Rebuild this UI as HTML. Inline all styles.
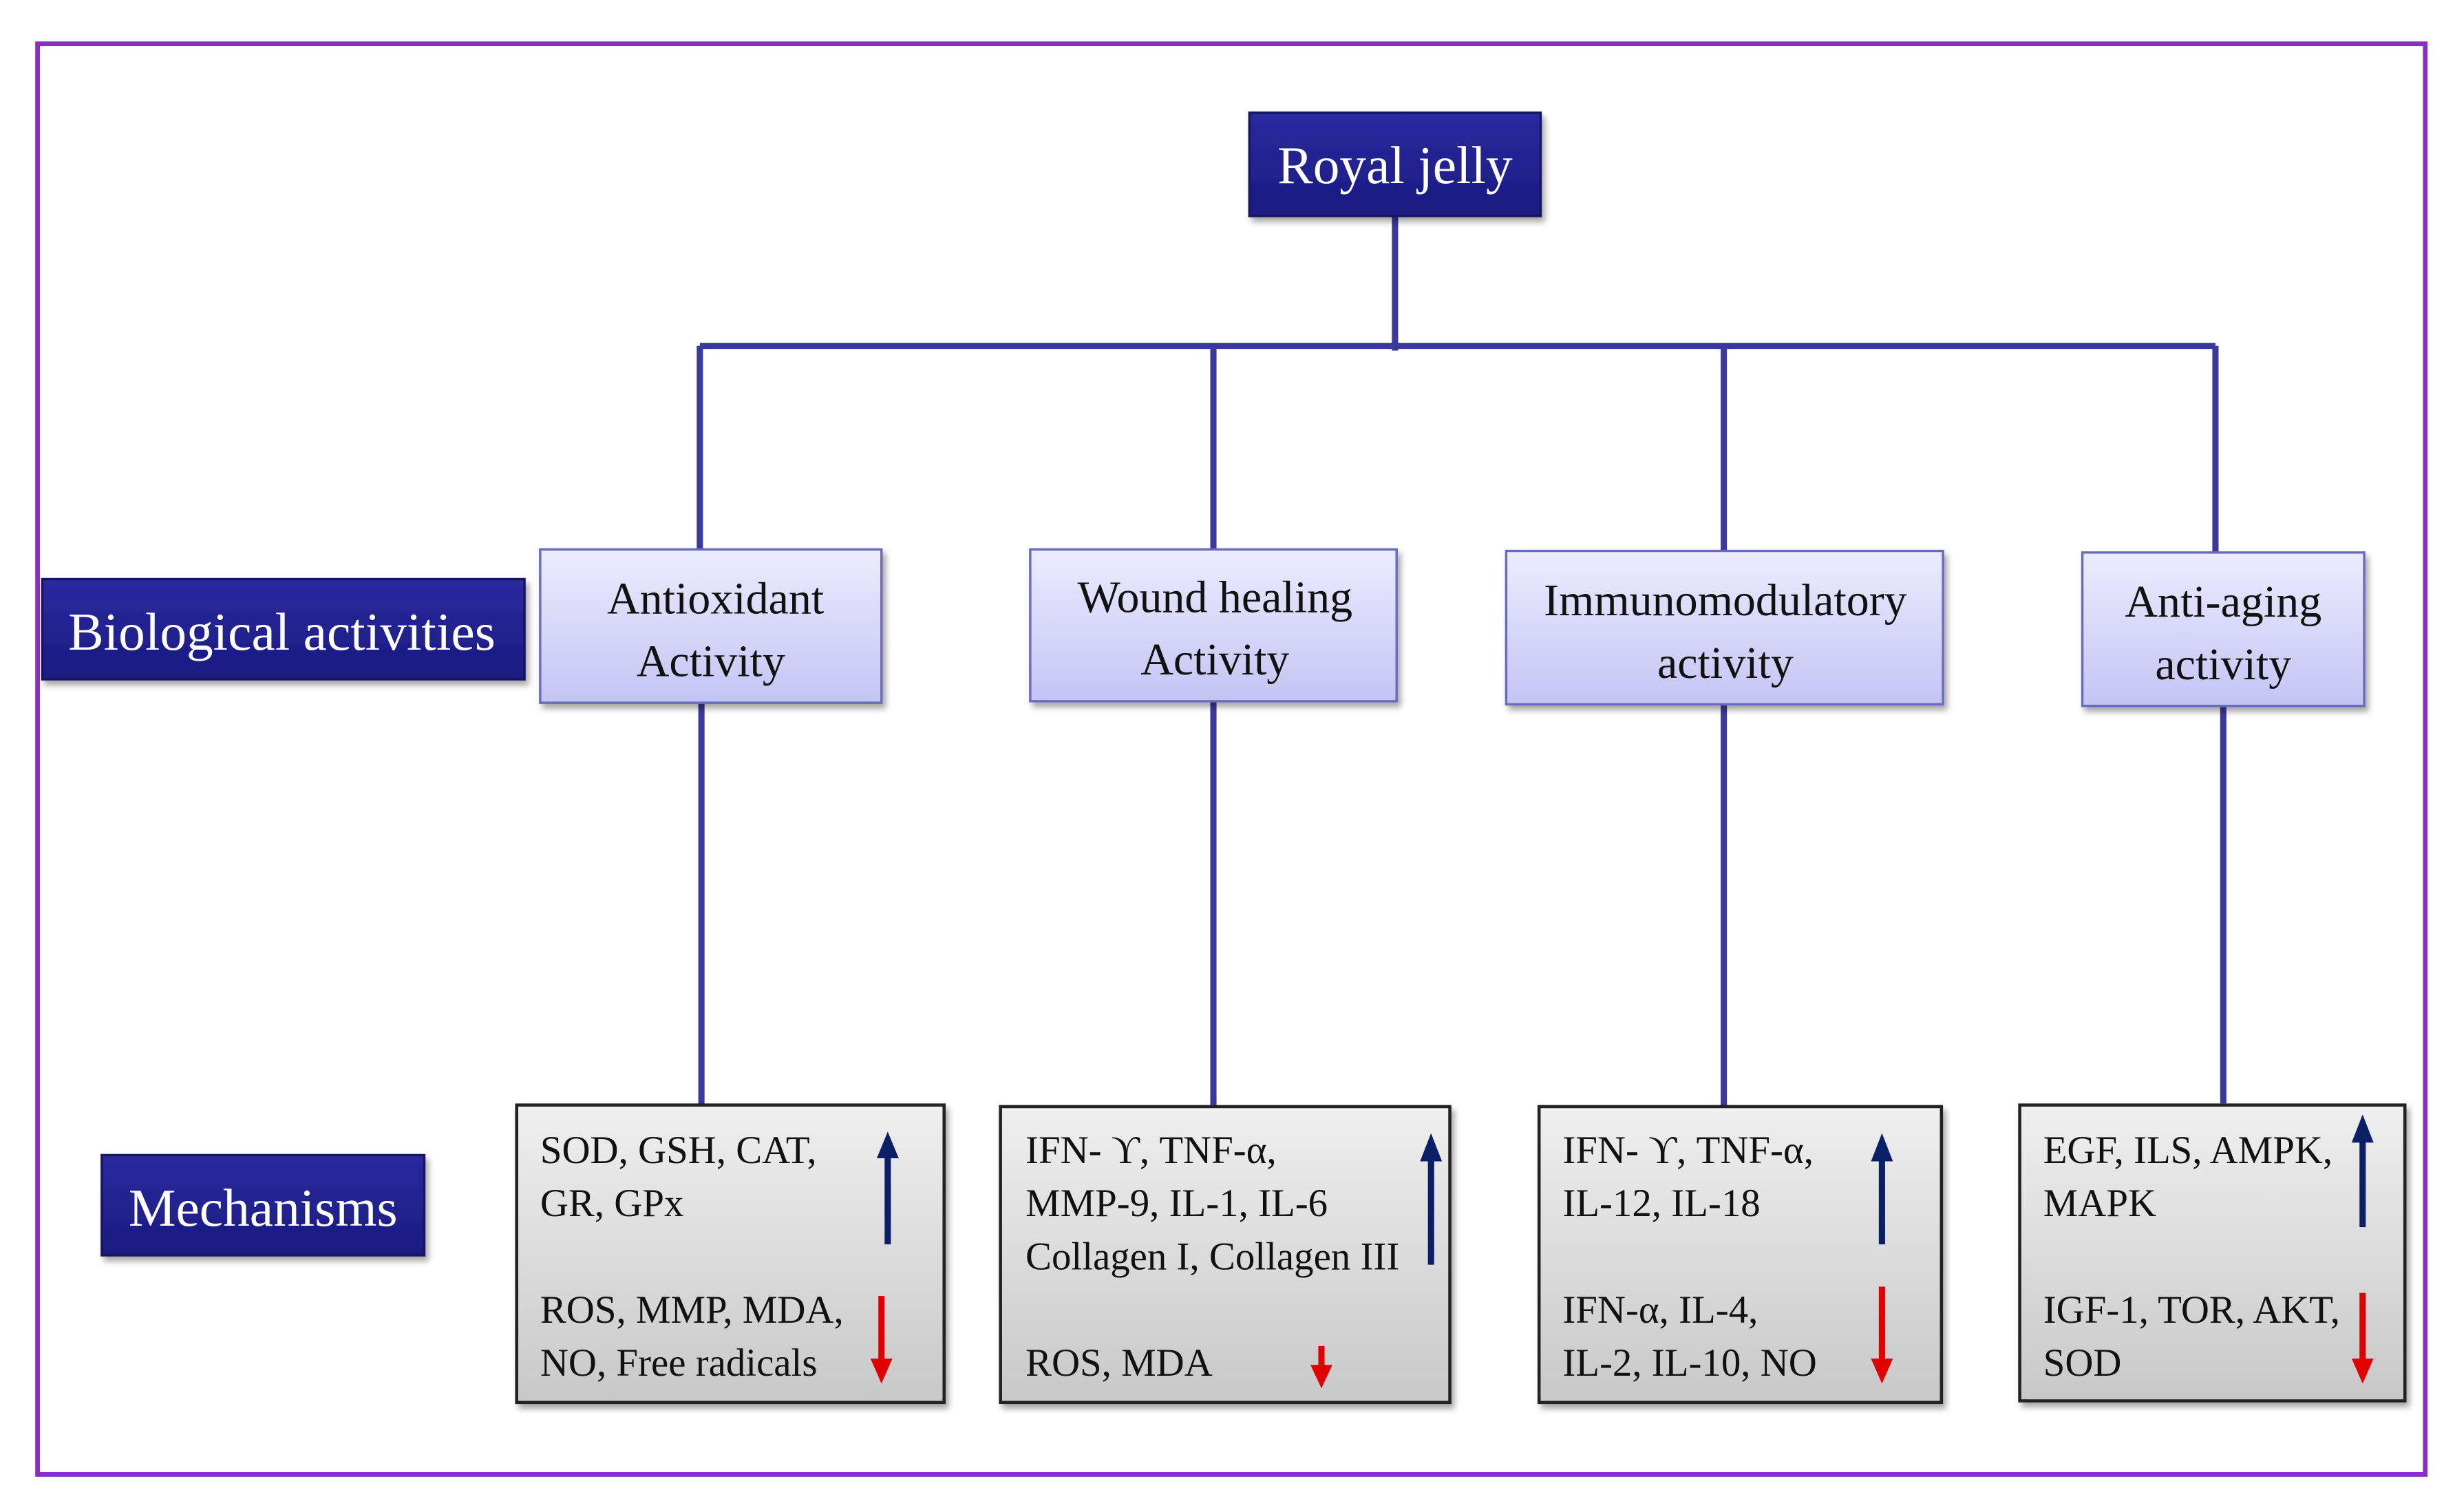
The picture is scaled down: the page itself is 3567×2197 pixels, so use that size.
<!DOCTYPE html>
<html><head><meta charset="utf-8"><style>
html,body{margin:0;padding:0;background:#fff;width:3567px;height:2197px;overflow:hidden}
svg{display:block}
text{font-family:"Liberation Serif",serif}
</style></head><body>
<svg width="3567" height="2197" viewBox="0 0 1568 966" preserveAspectRatio="none" xmlns="http://www.w3.org/2000/svg">
<defs>
<linearGradient id="lav" x1="0" y1="0" x2="0" y2="1"><stop offset="0" stop-color="#ececff"/><stop offset="1" stop-color="#c4c4f4"/></linearGradient>
<linearGradient id="gry" x1="0" y1="0" x2="0" y2="1"><stop offset="0" stop-color="#efefef"/><stop offset="1" stop-color="#c8c8c8"/></linearGradient>
<linearGradient id="nav" x1="0" y1="0" x2="0" y2="1"><stop offset="0" stop-color="#2a2aa0"/><stop offset="1" stop-color="#1a1a80"/></linearGradient>
<filter id="sh" x="-10%" y="-10%" width="130%" height="130%"><feDropShadow dx="2" dy="3" stdDeviation="2" flood-color="#000" flood-opacity="0.35"/></filter>
</defs>
<rect x="24" y="28" width="1525" height="914" fill="none" stroke="#8a2fc0" stroke-width="3"/>
<g stroke="#3a3a9c" stroke-width="4" fill="none">
<path d="M891 138V224M447 221H1415M447 221V352M775 221V352M1101 221V353M1415 221V354"/>
<path d="M448 449V706M775 448V707M1101 450V707M1420 451V705"/>
</g>
<g filter="url(#sh)">
<rect x="798" y="72" width="186" height="66" fill="url(#nav)" stroke="#121260" stroke-width="1.5"/>
<rect x="27" y="370" width="308" height="64" fill="url(#nav)" stroke="#121260" stroke-width="1.5"/>
<rect x="65" y="738" width="206" height="64" fill="url(#nav)" stroke="#121260" stroke-width="1.5"/>
<rect x="345" y="351" width="218" height="98" fill="url(#lav)" stroke="#6a6ac0" stroke-width="1.5"/>
<rect x="658" y="351" width="234" height="97" fill="url(#lav)" stroke="#6a6ac0" stroke-width="1.5"/>
<rect x="962" y="352" width="279" height="98" fill="url(#lav)" stroke="#6a6ac0" stroke-width="1.5"/>
<rect x="1330" y="353" width="180" height="98" fill="url(#lav)" stroke="#6a6ac0" stroke-width="1.5"/>
<rect x="330" y="706" width="273" height="190" fill="url(#gry)" stroke="#222" stroke-width="2"/>
<rect x="639" y="707" width="287" height="189" fill="url(#gry)" stroke="#222" stroke-width="2"/>
<rect x="983" y="707" width="257" height="189" fill="url(#gry)" stroke="#222" stroke-width="2"/>
<rect x="1290" y="706" width="246" height="189" fill="url(#gry)" stroke="#222" stroke-width="2"/>
</g>
<g fill="#fff" font-size="34" text-anchor="middle">
<text x="891" y="117">Royal jelly</text>
<text x="180" y="415">Biological activities</text>
<text x="168" y="783">Mechanisms</text>
</g>
<g fill="#111" font-size="29" text-anchor="middle">
<text x="457" y="392">Antioxidant</text><text x="454" y="432">Activity</text>
<text x="776" y="391">Wound healing</text><text x="776" y="431">Activity</text>
<text x="1102" y="393">Immunomodulatory</text><text x="1102" y="433">activity</text>
<text x="1420" y="394">Anti-aging</text><text x="1420" y="434">activity</text>
</g>
<g fill="#111" font-size="25">
<text x="345" y="743">SOD, GSH, CAT,</text><text x="345" y="777">GR, GPx</text>
<text x="345" y="845">ROS, MMP, MDA,</text><text x="345" y="879">NO, Free radicals</text>
<text x="655" y="743">IFN- ϒ, TNF-α,</text><text x="655" y="777">MMP-9, IL-1, IL-6</text>
<text x="655" y="811">Collagen I, Collagen III</text><text x="655" y="879">ROS, MDA</text>
<text x="998" y="743">IFN- ϒ, TNF-α,</text><text x="998" y="777">IL-12, IL-18</text>
<text x="998" y="845">IFN-α, IL-4,</text><text x="998" y="879">IL-2, IL-10, NO</text>
<text x="1305" y="743">EGF, ILS, AMPK,</text><text x="1305" y="777"> MAPK</text>
<text x="1305" y="845">IGF-1, TOR, AKT,</text><text x="1305" y="879">SOD</text>
</g>
<g fill="#0a1f66">
<rect x="565" y="738" width="4" height="57"/><polygon points="560,740 574,740 567,723"/>
<rect x="912" y="740" width="4" height="68"/><polygon points="907,742 921,742 914,724"/>
<rect x="1200" y="740" width="4" height="55"/><polygon points="1195,742 1209,742 1202,724"/>
<rect x="1507" y="728" width="4" height="56"/><polygon points="1502,730 1516,730 1509,712"/>
</g>
<g fill="#e00000">
<rect x="561" y="828" width="4" height="42"/><polygon points="556,868 570,868 563,884"/>
<rect x="842" y="860" width="4" height="14"/><polygon points="837,872 851,872 844,887"/>
<rect x="1200" y="822" width="4" height="48"/><polygon points="1195,868 1209,868 1202,884"/>
<rect x="1507" y="826" width="4" height="44"/><polygon points="1502,868 1516,868 1509,884"/>
</g>
</svg>
</body></html>
